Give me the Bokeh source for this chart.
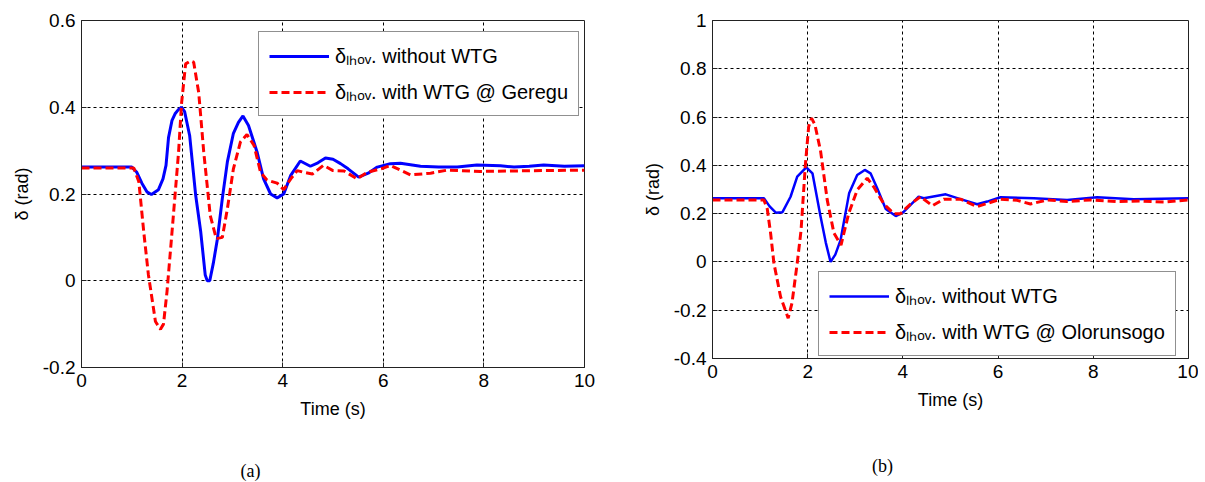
from bokeh.plotting import figure
from bokeh.layouts import row, column
from bokeh.models import Range1d, FixedTicker, Legend, LegendItem, Label
from bokeh.embed import file_html
from bokeh.resources import INLINE

# ---------------- data: panel (a) ----------------
t_blue_a = [0, 1.0, 1.1, 1.2, 1.3, 1.39, 1.53, 1.62, 1.68, 1.73, 1.8, 1.86, 1.93, 1.99, 2.05,
            2.15, 2.27, 2.37, 2.46, 2.5, 2.55, 2.62, 2.7, 2.8, 2.9, 3.02, 3.12, 3.21, 3.32,
            3.49, 3.62, 3.76, 3.89, 4.02, 4.16, 4.35, 4.55, 4.7, 4.85, 5.0, 5.15, 5.3, 5.51,
            5.7, 5.88, 6.14, 6.34, 6.74, 7.1, 7.47, 7.86, 8.33, 8.6, 8.9, 9.19, 9.6, 10]
d_blue_a = [0.262, 0.262, 0.25, 0.225, 0.205, 0.199, 0.21, 0.235, 0.266, 0.33, 0.37, 0.385,
            0.395, 0.40, 0.39, 0.335, 0.197, 0.113, 0.013, 0.0, 0.0, 0.04, 0.095, 0.19, 0.274,
            0.34, 0.365, 0.38, 0.358, 0.297, 0.235, 0.2, 0.191, 0.2, 0.243, 0.276, 0.264,
            0.272, 0.283, 0.28, 0.27, 0.258, 0.239, 0.248, 0.262, 0.27, 0.271, 0.264, 0.262,
            0.262, 0.267, 0.265, 0.262, 0.264, 0.267, 0.264, 0.265]
t_red_a = [0, 1.04, 1.14, 1.24, 1.33, 1.47, 1.57, 1.63, 1.7, 1.8, 1.93, 1.99, 2.07, 2.17,
           2.23, 2.33, 2.43, 2.56, 2.68, 2.8, 2.9, 3.02, 3.16, 3.29, 3.43, 3.56, 3.69, 3.89,
           4.02, 4.16, 4.29, 4.42, 4.59, 4.81, 5.0, 5.22, 5.48, 5.68, 6.01, 6.14, 6.34, 6.54,
           6.94, 7.27, 7.93, 8.5, 9.2, 10]
d_red_a = [0.26, 0.26, 0.228, 0.11, 0.014, -0.094, -0.112, -0.1, -0.025, 0.113, 0.297, 0.41,
           0.5, 0.507, 0.504, 0.434, 0.297, 0.15, 0.097, 0.1, 0.166, 0.258, 0.32, 0.337,
           0.312, 0.25, 0.232, 0.225, 0.21, 0.235, 0.254, 0.25, 0.246, 0.266, 0.254, 0.253,
           0.235, 0.25, 0.26, 0.266, 0.255, 0.244, 0.248, 0.255, 0.252, 0.253, 0.254, 0.255]

# ---------------- data: panel (b) ----------------
t_blue_b = [0, 1.08, 1.2, 1.33, 1.47, 1.64, 1.78, 1.97, 2.1, 2.27, 2.38, 2.48, 2.58, 2.69,
            2.87, 3.04, 3.2, 3.32, 3.46, 3.64, 3.85, 4.0, 4.23, 4.33, 4.44, 4.9, 5.21, 5.56,
            5.77, 6.05, 6.75, 7.45, 8.08, 8.85, 10]
d_blue_b = [0.264, 0.264, 0.23, 0.204, 0.206, 0.27, 0.353, 0.392, 0.367, 0.188, 0.08, 0.0,
            0.03, 0.09, 0.284, 0.36, 0.381, 0.367, 0.305, 0.219, 0.19, 0.204, 0.25, 0.27,
            0.264, 0.28, 0.26, 0.239, 0.25, 0.268, 0.264, 0.257, 0.268, 0.26, 0.264]
t_red_b = [0, 1.08, 1.15, 1.22, 1.29, 1.43, 1.59, 1.67, 1.78, 1.86, 1.95, 2.02, 2.08, 2.15,
           2.27, 2.41, 2.55, 2.7, 2.86, 3.04, 3.25, 3.39, 3.6, 3.81, 3.95, 4.16, 4.37, 4.62,
           4.86, 5.21, 5.56, 6.05, 6.4, 6.68, 7.03, 7.45, 7.94, 8.5, 9.0, 9.5, 10]
d_red_b = [0.257, 0.257, 0.22, 0.12, -0.005, -0.144, -0.233, -0.17, -0.005, 0.13, 0.4, 0.56,
           0.595, 0.57, 0.46, 0.257, 0.12, 0.07, 0.2, 0.298, 0.347, 0.31, 0.24, 0.2, 0.2,
           0.24, 0.27, 0.233, 0.26, 0.26, 0.229, 0.26, 0.255, 0.24, 0.257, 0.25, 0.257, 0.25,
           0.252, 0.248, 0.257]

# ---------------- ticks and texts ----------------
x_ticks = [0, 2, 4, 6, 8, 10]
x_tick_labels = ["0", "2", "4", "6", "8", "10"]
y_ticks_a = [-0.2, 0, 0.2, 0.4, 0.6]
y_tick_labels_a = ["-0.2", "0", "0.2", "0.4", "0.6"]
y_ticks_b = [-0.4, -0.2, 0, 0.2, 0.4, 0.6, 0.8, 1]
y_tick_labels_b = ["-0.4", "-0.2", "0", "0.2", "0.4", "0.6", "0.8", "1"]
label_blue = "δₗₕₒᵥ. without WTG"
label_red_a = "δₗₕₒᵥ. with WTG @ Geregu"
label_red_b = "δₗₕₒᵥ. with WTG @ Olorunsogo"
captions = ["(a)", "(b)"]

FONT = "Liberation Sans"
FS = "19px"


def panel(tb, db, tr, dr, yt, ytl, yr, red_label, w, h, bl, br, bt, bb, leg_loc, lw_blue):
    p = figure(width=w, height=h, min_border_left=bl, min_border_right=br,
               min_border_top=bt, min_border_bottom=bb,
               x_range=Range1d(0, 10), y_range=Range1d(*yr),
               output_backend="svg", toolbar_location=None, tools="")
    p.background_fill_color = "white"
    p.border_fill_color = "white"
    p.outline_line_color = "#222222"
    p.outline_line_width = 1
    rb = p.line(tb, db, line_color="#0000FF", line_width=lw_blue)
    rr = p.line(tr, dr, line_color="#FF0000", line_width=3, line_dash="8 4")

    p.xaxis.ticker = FixedTicker(ticks=x_ticks)
    p.xaxis.major_label_overrides = dict(zip(x_ticks, x_tick_labels))
    p.yaxis.ticker = FixedTicker(ticks=yt)
    p.yaxis.major_label_overrides = dict(zip(yt, ytl))
    p.xaxis.axis_label = "Time (s)"
    p.yaxis.axis_label = "δ (rad)"
    for ax in (p.xaxis, p.yaxis):
        ax.axis_line_color = "#222222"
        ax.major_tick_line_color = "#222222"
        ax.major_tick_in = 5
        ax.major_tick_out = 0
        ax.minor_tick_line_color = None
        ax.major_label_text_font = FONT
        ax.major_label_text_font_size = FS
        ax.major_label_text_color = "black"
        ax.axis_label_text_font = FONT
        ax.axis_label_text_font_size = "18px"
        ax.axis_label_text_font_style = "normal"
        ax.axis_label_text_color = "black"
        ax.major_label_standoff = 6
        ax.axis_label_standoff = 9
    p.yaxis.axis_label_standoff = 8

    for g in (p.xgrid, p.ygrid):
        g.grid_line_color = "black"
        g.grid_line_dash = "3 3"
        g.grid_line_width = 1
        g.grid_line_alpha = 1
    p.xgrid.ticker = FixedTicker(ticks=x_ticks)
    p.ygrid.ticker = FixedTicker(ticks=yt)

    legend = Legend(items=[LegendItem(label=label_blue, renderers=[rb]),
                           LegendItem(label=red_label, renderers=[rr])],
                    location=leg_loc)
    legend.border_line_color = "#222222"
    legend.border_line_width = 1
    legend.background_fill_color = "white"
    legend.background_fill_alpha = 1
    legend.label_text_font = FONT
    legend.label_text_font_size = "20px"
    legend.label_text_color = "black"
    legend.glyph_width = 60
    legend.glyph_height = 20
    legend.label_height = 20
    legend.label_standoff = 6
    legend.padding = 10
    legend.spacing = 9
    legend.margin = 0
    p.add_layout(legend, "center")
    return p


# the row aligns the top/bottom borders of both panels, so they share them
pa = panel(t_blue_a, d_blue_a, t_red_a, d_red_a, y_ticks_a, y_tick_labels_a, (-0.2, 0.6),
           label_red_a, 600, 449, 81, 16, 20, 82, (177, 251), 3)
pb = panel(t_blue_b, d_blue_b, t_red_b, d_red_b, y_ticks_b, y_tick_labels_b, (-0.4, 1.0),
           label_red_b, 598, 440, 112, 10, 20, 82, (106, 2), 2.5)

# caption strip below the two panels
cap = figure(width=1198, height=33, x_range=Range1d(0, 1198), y_range=Range1d(0, 33),
             min_border=0, x_axis_location=None, y_axis_location=None,
             output_backend="svg", toolbar_location=None, tools="")
cap.grid.visible = False
cap.outline_line_color = None
cap.background_fill_color = "white"
cap.border_fill_color = "white"
for txt, cx, cy in zip(captions, [250, 882], [12, 17]):
    cap.add_layout(Label(x=cx, y=cy, text=txt, text_align="center", text_baseline="middle",
                         text_font="Liberation Serif", text_font_size="18px",
                         text_color="black"))

layout = column(row(pa, pb), cap)
open("out.html", "w").write(file_html(layout, INLINE))
